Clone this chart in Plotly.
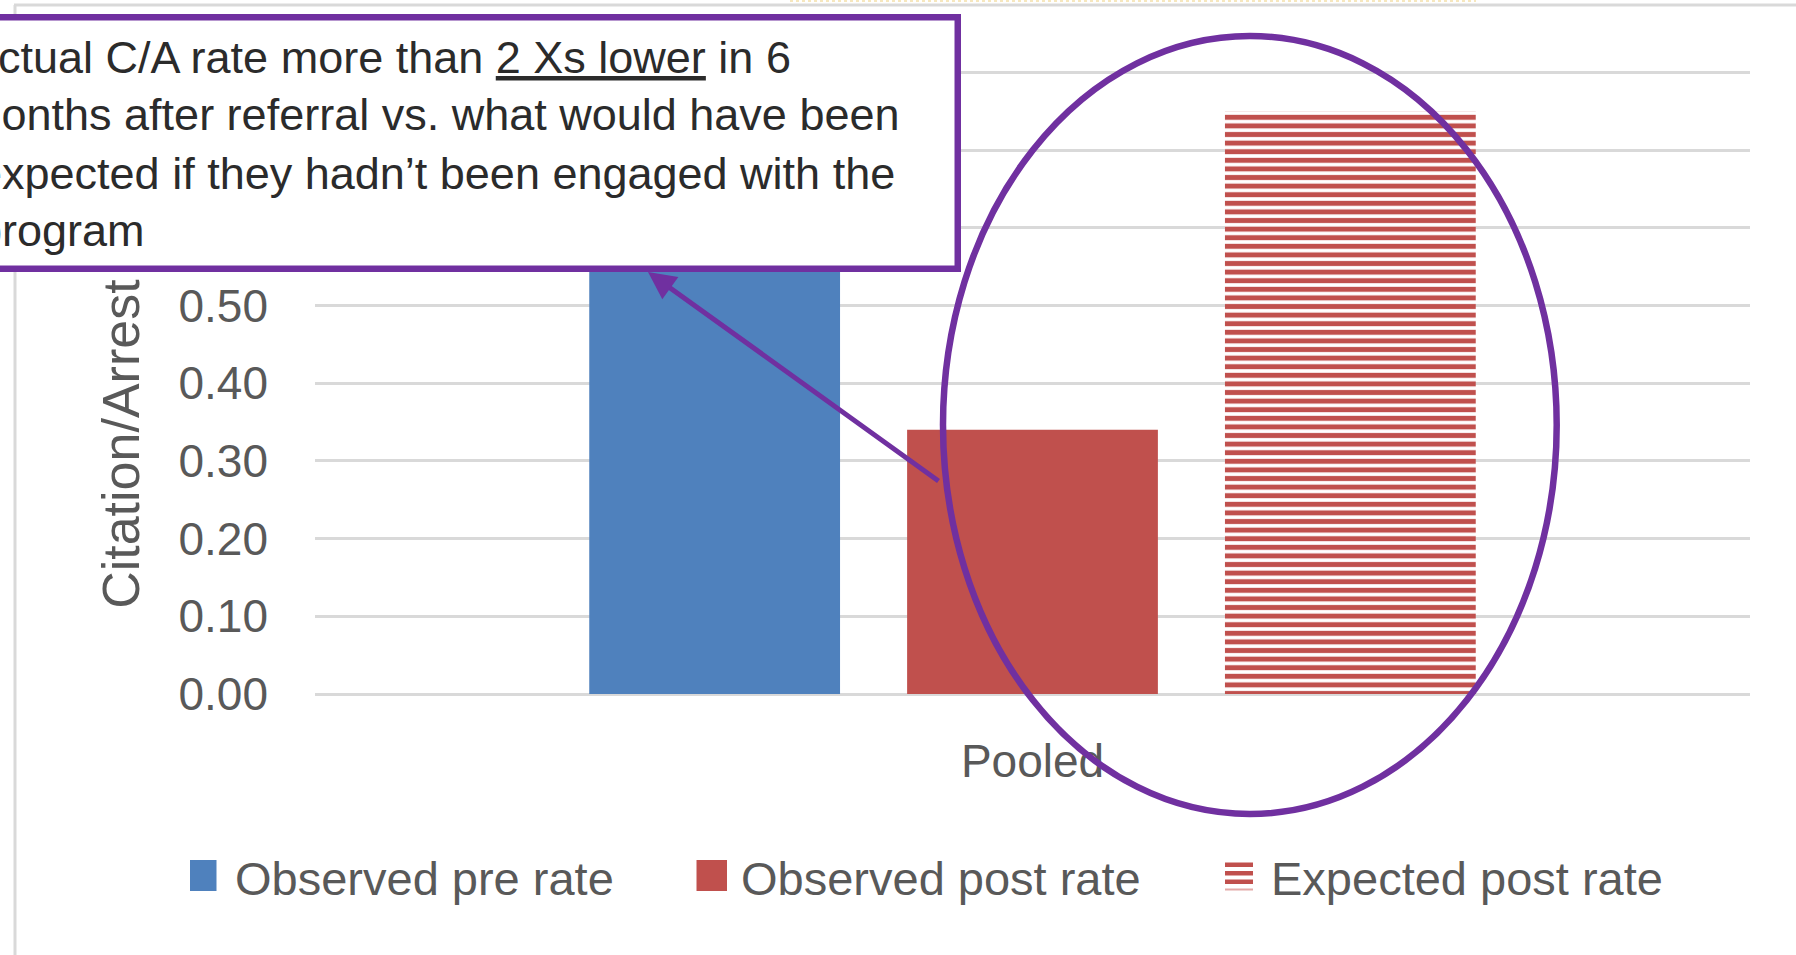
import plotly.graph_objects as go

# ---- data -------------------------------------------------------------
categories = ["Pooled"]
series_names = ["Observed pre rate", "Observed post rate", "Expected post rate"]
observed_pre = [0.62]
observed_post = [0.34]
expected_post = [0.75]
y_ticks = [0.0, 0.1, 0.2, 0.3, 0.4, 0.5, 0.6, 0.7, 0.8]
Y_MAX = 0.803

# ---- styling ----------------------------------------------------------
BLUE = "#4F81BD"
RED = "#C0504D"
PURPLE = "#7030A0"
GRID = "#D9D9D9"
AXIS_TEXT = "#595959"
FONT = "Liberation Sans, Arial, sans-serif"

W, H = 1796, 955
L, R, T, B = 315, 46, 70, 261
PW, PH = W - L - R, H - T - B
PLOT_BOTTOM = H - B


def px_x(px):
    """Pixel column -> paper x."""
    return (px - L) / PW


def px_y(py):
    """Pixel row (from top) -> paper y."""
    return (PLOT_BOTTOM - py) / PH


fig = go.Figure()
fig.add_trace(go.Bar(name=series_names[0], x=categories, y=observed_pre,
                     marker=dict(color=BLUE, line=dict(width=0))))
fig.add_trace(go.Bar(name=series_names[1], x=categories, y=observed_post,
                     marker=dict(color=RED, line=dict(width=0))))
fig.add_trace(go.Bar(name=series_names[2], x=categories, y=expected_post,
                     marker=dict(color=RED, line=dict(width=0),
                                 pattern=dict(shape="-", fgcolor=RED, bgcolor="white",
                                              size=8.6, solidity=0.58,
                                              fillmode="replace"))))

shapes = []
# chart frame (top and left edges)
shapes.append(dict(type="line", xref="paper", yref="paper",
                   x0=px_x(14), x1=px_x(W + 5), y0=px_y(5), y1=px_y(5),
                   line=dict(color=GRID, width=3)))
shapes.append(dict(type="line", xref="paper", yref="paper",
                   x0=px_x(15), x1=px_x(15), y0=px_y(5), y1=px_y(H + 5),
                   line=dict(color=GRID, width=3)))
shapes.append(dict(type="line", xref="paper", yref="paper",
                   x0=px_x(790), x1=px_x(1476), y0=px_y(1), y1=px_y(1),
                   line=dict(color="#F6E7BE", width=2, dash="dot")))
# highlight ellipse around the post-period bars
shapes.append(dict(type="circle", xref="paper", yref="paper", layer="above",
                   x0=px_x(943), x1=px_x(1556.7), y0=px_y(814), y1=px_y(36),
                   line=dict(color=PURPLE, width=6.5)))

# legend swatches
swatch_boxes = [(190, 216.5), (696.5, 727), (1225, 1253)]
shapes.append(dict(type="rect", xref="paper", yref="paper",
                   x0=px_x(swatch_boxes[0][0]), x1=px_x(swatch_boxes[0][1]),
                   y0=px_y(891), y1=px_y(860), fillcolor=BLUE, line=dict(width=0)))
shapes.append(dict(type="rect", xref="paper", yref="paper",
                   x0=px_x(swatch_boxes[1][0]), x1=px_x(swatch_boxes[1][1]),
                   y0=px_y(891), y1=px_y(860), fillcolor=RED, line=dict(width=0)))
for top, bot, col in [(862.5, 867, RED), (871, 875.5, RED), (879.5, 884, RED),
                      (888.5, 890.5, "#E3A9A7")]:
    shapes.append(dict(type="rect", xref="paper", yref="paper",
                       x0=px_x(swatch_boxes[2][0]), x1=px_x(swatch_boxes[2][1]),
                       y0=px_y(bot), y1=px_y(top), fillcolor=col, line=dict(width=0)))

annotations = []
# callout box (drawn over the axis title), then its text line by line
BOX_LEFT, BOX_RIGHT, BOX_TOP, BOX_BOTTOM = -40, 961.25, 13.5, 271.5
BW = 6.5
annotations.append(dict(
    xref="paper", yref="paper", x=px_x(BOX_RIGHT), y=px_y(BOX_TOP),
    xanchor="right", yanchor="top", showarrow=False, text=" ",
    width=BOX_RIGHT - BOX_LEFT - 2 * BW, height=BOX_BOTTOM - BOX_TOP - 2 * BW,
    bgcolor="white", bordercolor=PURPLE, borderwidth=BW, borderpad=0,
    font=dict(family=FONT, size=10, color="white")))

callout_lines = [
    "Actual C/A rate more than <u>2 Xs lower</u> in 6",
    "months after referral vs. what would have been",
    "expected if they hadn\u2019t been engaged with the",
    "program",
]
line_x = [-34, -38, -25, -25]
line_y = [57, 115, 173, 230]
for txt, lx, ly in zip(callout_lines, line_x, line_y):
    annotations.append(dict(
        xref="paper", yref="paper", x=px_x(lx), y=px_y(ly),
        xanchor="left", yanchor="middle", showarrow=False, text=txt,
        font=dict(family=FONT, size=45, color="#2B2B2B")))

# arrow from the ellipse to the callout
annotations.append(dict(
    xref="paper", yref="paper", x=px_x(648), y=px_y(272),
    ax=292, ay=210, text="", showarrow=True,
    arrowhead=2, arrowsize=1.1, arrowwidth=5, arrowcolor=PURPLE, standoff=0))
# legend labels
legend_text_x = [232.5, 739, 1269]
for name, tx in zip(series_names, legend_text_x):
    annotations.append(dict(
        xref="paper", yref="paper", x=px_x(tx), y=px_y(878),
        xanchor="left", yanchor="middle", showarrow=False, text=name,
        font=dict(family=FONT, size=47, color=AXIS_TEXT)))

fig.update_layout(
    width=W, height=H,
    margin=dict(l=L, r=R, t=T, b=B, autoexpand=False),
    paper_bgcolor="white", plot_bgcolor="white",
    barmode="group", bargap=0.3355, bargroupgap=0.211,
    showlegend=False,
    font=dict(family=FONT, color=AXIS_TEXT),
    xaxis=dict(range=[-0.5, 0.5], showgrid=False, showline=False, zeroline=False,
               ticks="", tickfont=dict(size=46, color=AXIS_TEXT),
               ticklabelstandoff=36),
    yaxis=dict(range=[0, Y_MAX], tickvals=y_ticks, tickformat=".2f",
               showgrid=True, gridcolor=GRID, gridwidth=3,
               zeroline=True, zerolinecolor=GRID, zerolinewidth=3,
               showline=False, ticks="", ticklabelstandoff=46,
               tickfont=dict(size=46, color=AXIS_TEXT),
               title=dict(text="Citation/Arrest Rate", standoff=22,
                          font=dict(size=52, color=AXIS_TEXT))),
    shapes=shapes,
    annotations=annotations,
)

fig.write_html("out.html")
